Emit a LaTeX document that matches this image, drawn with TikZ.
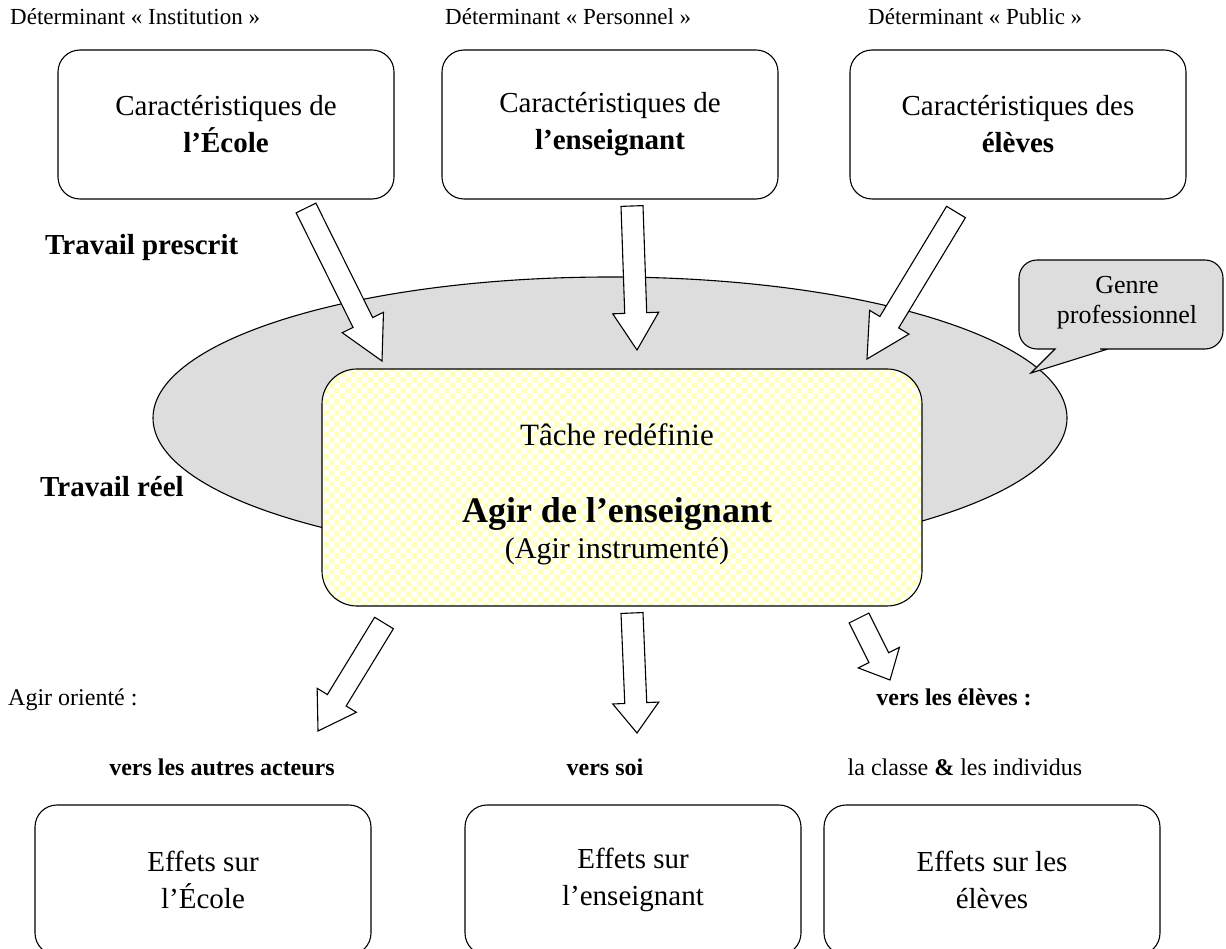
\documentclass[tikz,border=0pt]{standalone}
\usepackage{fontspec}
\setmainfont{Liberation Serif}
\usetikzlibrary{positioning,calc,shapes.geometric,patterns}

\definecolor{ellgray}{RGB}{221,221,221}
\definecolor{chkyellow}{RGB}{255,255,190}

% hollow block arrow: tail, tip, head length
\newcommand{\blockarrow}[3]{%
  \path ($(#2)!#3!(#1)$) coordinate (hb);
  \draw[hollowarrow]
    ($(#1)!11pt!90:(#2)$) -- ($(hb)!11pt!90:(#2)$) -- ($(hb)!23pt!90:(#2)$)
    -- (#2) -- ($(hb)!23pt!-90:(#2)$) -- ($(hb)!11pt!-90:(#2)$)
    -- ($(#1)!11pt!-90:(#2)$) -- cycle;
}

\tikzset{
  caracbox/.style={draw, line width=1.1pt, rounded corners=22pt, minimum width=336pt,
    minimum height=149pt, align=center, font=\fontsize{29}{37}\selectfont},
  effetbox/.style={caracbox, minimum height=150pt},
  agirbox/.style={draw, line width=1.1pt, rounded corners=35pt, minimum width=600pt,
    minimum height=237pt, preaction={fill=white}, pattern=checkerboard, pattern color=chkyellow},
  genreell/.style={draw, ellipse, line width=1.1pt, fill=ellgray, minimum width=914pt, minimum height=282pt},
  calloutbox/.style={draw, line width=1.1pt, fill=ellgray},
  hollowarrow/.style={draw, fill=white, line width=1.1pt, line join=miter},
  determ/.style={font=\fontsize{23}{27}\selectfont, anchor=base west, inner sep=0pt},
  travail/.style={font=\bfseries\fontsize{29}{34}\selectfont, anchor=base west, inner sep=0pt},
  vers/.style={font=\fontsize{24}{28}\selectfont, anchor=base, inner sep=0pt},
  versb/.style={vers, font=\bfseries\fontsize{24}{28}\selectfont},
}

\begin{document}
\begin{tikzpicture}[x=1pt, y=-1pt]
\useasboundingbox (0,0) rectangle (1226,949);
\clip (0,0) rectangle (1226,949);

% determinants
\node[determ] (detinst) at (10,25) {Déterminant « Institution »};
\node[determ] (detpers) at (445,25) {Déterminant « Personnel »};
\node[determ] (detpub) at (868,25) {Déterminant « Public »};

\node[caracbox] (ecole) at (226,124.5) {Caractéristiques de\\\textbf{l’École}};
\node[caracbox] (ens) at (610,124.5) {Caractéristiques de\\\textbf{l’enseignant}};
\node[caracbox] (eleves) at (1018,124.5) {Caractéristiques des\\\textbf{élèves}};

\node[travail] (prescrit) at (45,255) {Travail prescrit};

% genre professionnel
\node[genreell] (genre) at (610,418) {};
\draw[calloutbox] (1019,300) [rounded corners=18pt] -- (1019,260) -- (1223,260) -- (1223,349)
  -- (1118,349) [sharp corners] -- (1108,349) -- (1031,373) -- (1055,349) -- (1045,349)
  [rounded corners=18pt] -- (1019,349) -- cycle;
\node[align=center, font=\fontsize{26}{30}\selectfont] (genretxt) at (1127,303) {Genre\\professionnel};

\node[travail] (reel) at (40,496) {Travail réel};

\coordinate (a1) at (306,208); \coordinate (b1) at (382,361);
\coordinate (a2) at (632,206); \coordinate (b2) at (637,350);
\coordinate (a3) at (956,212); \coordinate (b3) at (867,359);
\blockarrow{a1}{b1}{43pt}
\blockarrow{a2}{b2}{37pt}
\blockarrow{a3}{b3}{43pt}

% tache redefinie
\node[agirbox] (agir) at (622,487.5) {};
\node[font=\fontsize{31}{36}\selectfont, anchor=base] (tache) at (617,445) {Tâche redéfinie};
\node[font=\bfseries\fontsize{36}{40}\selectfont, anchor=base] (agirtxt) at (617,522) {Agir de l’enseignant};
\node[font=\fontsize{30}{34}\selectfont, anchor=base] (instr) at (617,558) {(Agir instrumenté)};

\coordinate (a4) at (384,623); \coordinate (b4) at (318,731);
\coordinate (a5) at (632,613); \coordinate (b5) at (637,733);
\coordinate (a6) at (859,618); \coordinate (b6) at (890,680);
\blockarrow{a4}{b4}{36pt}
\blockarrow{a5}{b5}{30pt}
\blockarrow{a6}{b6}{25pt}

\node[determ, font=\fontsize{24}{28}\selectfont] (oriente) at (8,705) {Agir orienté :};
\node[versb] (verseleves) at (954,705) {vers les élèves :};
\node[versb] (versautres) at (222,775) {vers les autres acteurs};
\node[versb] (verssoi) at (605,775) {vers soi};
\node[vers] (classe) at (965,775) {la classe \textbf{\&} les individus};

\node[effetbox] (effecole) at (203,880) {Effets sur\\l’École};
\node[effetbox] (effens) at (633,880) {Effets sur\\l’enseignant};
\node[effetbox] (effeleves) at (992,880) {Effets sur les\\élèves};
\end{tikzpicture}
\end{document}
